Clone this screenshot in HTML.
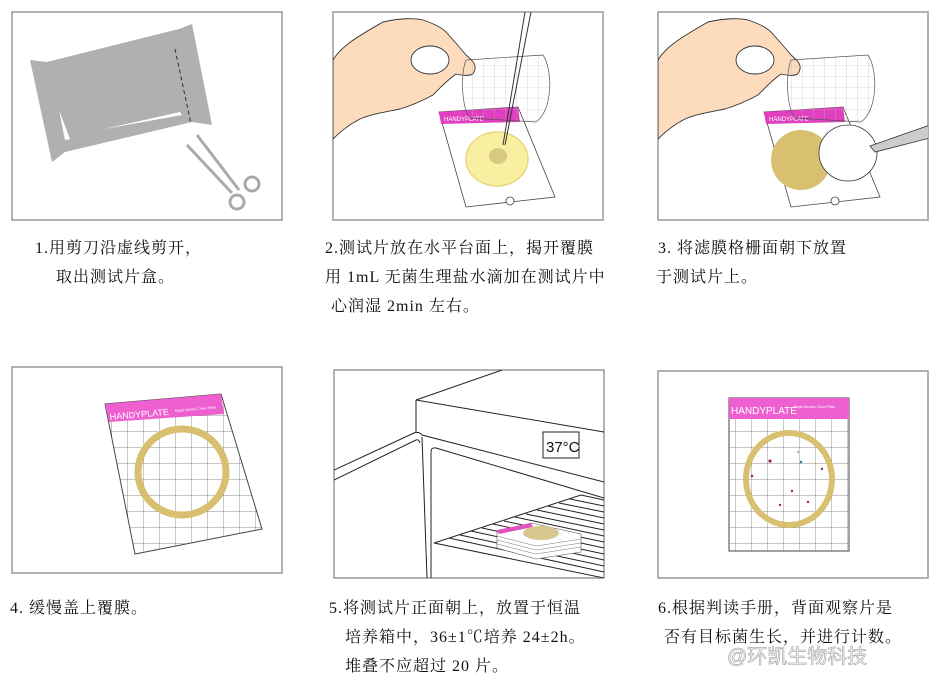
<!DOCTYPE html>
<html><head><meta charset="utf-8"><style>
html,body{margin:0;padding:0;background:#fff;width:941px;height:685px;overflow:hidden}
svg{display:block}
text{font-family:"Liberation Serif","Noto Serif CJK SC",serif;font-size:15px;fill:#111}
.t{font-size:16px;letter-spacing:1px}
.s{font-family:"Liberation Sans",sans-serif}
</style></head><body>
<svg width="941" height="685" viewBox="0 0 941 685" xmlns="http://www.w3.org/2000/svg">
<defs>
<pattern id="g" width="16" height="16" patternUnits="userSpaceOnUse"><path d="M16 0V16H0" fill="none" stroke="#666" stroke-width="0.7"/></pattern>
<pattern id="gl" width="11" height="11" patternUnits="userSpaceOnUse"><path d="M11 0V11H0" fill="none" stroke="#bbb" stroke-width="0.6"/></pattern>
<clipPath id="c1"><rect x="12" y="12" width="270" height="208"/></clipPath>
<clipPath id="c2"><rect x="333" y="12" width="270" height="208"/></clipPath>
<clipPath id="c3"><rect x="658" y="12" width="270" height="208"/></clipPath>
<clipPath id="c5"><rect x="334" y="370" width="270" height="208"/></clipPath>
<g id="hand">
<path d="M333,60 C340,48 353,39 383,22 C400,18 415,18 423,20 C435,24 442,28 446,32 C455,42 462,50 466,55 C472,60 476,64 475,69 C474,73 472,75 470,75 C465,76 460,75 456,74 C445,82 438,90 433,95 C420,102 410,106 400,109 C385,112 372,114 360,119 C348,125 340,132 333,139 Z" fill="#fcdcbc" stroke="#333" stroke-width="0.9"/>
<ellipse cx="430" cy="60" rx="19" ry="14" fill="#fff" stroke="#333" stroke-width="0.9"/>
</g>
</defs>
<g fill="none" stroke="#999" stroke-width="1.5">
<rect x="12" y="12" width="270" height="208"/>
<rect x="333" y="12" width="270" height="208"/>
<rect x="658" y="12" width="270" height="208"/>
<rect x="12" y="367" width="270" height="206"/>
<rect x="334" y="370" width="270" height="208"/>
<rect x="658" y="371" width="270" height="207"/>
</g>
<!-- panel 1 -->
<g clip-path="url(#c1)">
<polygon points="30,60 47,62 179,29 192,24 212,125 192,122 65,152 52,162" fill="#b0b0b0"/>
<polygon points="59,110 70,139 65,140" fill="#fff"/>
<polygon points="104,129 180,112 182,115 110,128" fill="#fff"/>
<line x1="175" y1="49" x2="191" y2="124" stroke="#333" stroke-dasharray="4,3" stroke-width="1"/>
<g stroke="#aaa" stroke-width="3" fill="none">
<line x1="197" y1="135" x2="239" y2="190"/><line x1="187" y1="145" x2="232" y2="193"/>
<circle cx="252" cy="184" r="7"/><circle cx="237" cy="202" r="7"/></g>
</g>
<!-- panel 2 -->
<g clip-path="url(#c2)">
<use href="#hand"/>
<polygon points="439,112 518,107 555,197 466,207" fill="#fff" stroke="#444" stroke-width="0.8"/>
<polygon points="439,112 518,107 520,122 441,124" fill="#e040c0"/>
<text x="444" y="121" class="s" style="font-size:6px;fill:#fff">HANDYPLATE</text>
<circle cx="510" cy="201" r="4" fill="#fff" stroke="#444" stroke-width="0.8"/>
<ellipse cx="497" cy="159" rx="31" ry="27" fill="#f8f0a0" stroke="#e8d880" stroke-width="1.5"/>
<ellipse cx="498" cy="156" rx="9" ry="8" fill="#d8c880"/>
<path d="M466,60 L543,55 C553,70 553,110 536,122 L470,118 C462,110 460,75 466,60Z" fill="url(#gl)" stroke="#555" stroke-width="0.7" fill-opacity="0.9"/>
<line x1="525" y1="12" x2="503" y2="145" stroke="#333" stroke-width="1"/>
<line x1="531" y1="12" x2="505" y2="145" stroke="#333" stroke-width="1"/>
</g>
<!-- panel 3 -->
<g clip-path="url(#c3)">
<use href="#hand" transform="translate(325,0)"/>
<polygon points="764,112 843,107 880,197 791,207" fill="#fff" stroke="#444" stroke-width="0.8"/>
<polygon points="764,112 843,107 845,122 766,124" fill="#e040c0"/>
<text x="769" y="121" class="s" style="font-size:6px;fill:#fff">HANDYPLATE</text>
<circle cx="835" cy="201" r="4" fill="#fff" stroke="#444" stroke-width="0.8"/>
<path d="M791,60 L868,55 C878,70 878,110 861,122 L795,118 C787,110 785,75 791,60Z" fill="url(#gl)" stroke="#555" stroke-width="0.7"/>
<ellipse cx="801" cy="160" rx="30" ry="30" fill="#d8c070"/>
<ellipse cx="848" cy="153" rx="29" ry="28" fill="#fff" stroke="#333" stroke-width="0.8"/>
<polygon points="870,146 930,125 930,138 875,152" fill="#ccc" stroke="#333" stroke-width="0.8"/>
</g>
<!-- panel 4 -->
<polygon points="105,404 221,394 262,529 135,554" fill="url(#g)" stroke="#444" stroke-width="1"/>
<polygon points="105,404 221,394 224,414 109,422" fill="#ee60d0"/>
<text x="0" y="0" class="s" style="font-size:9px;fill:#fff" transform="translate(110,420) rotate(-5)">HANDYPLATE</text>
<text x="0" y="0" class="s" style="font-size:3.5px;fill:#fff" transform="translate(175,412) rotate(-5)">Rapid Aerobic Count Plate</text>
<ellipse cx="182" cy="472" rx="44" ry="43" fill="none" stroke="#d8c070" stroke-width="7"/>
<!-- panel 5 -->
<g clip-path="url(#c5)" fill="none" stroke="#222" stroke-width="1">
<polyline points="502,370 416,400 604,432"/>
<polyline points="416,400 416,432"/>
<path d="M334,470 L414,433 Q419,431 422,435 L604,482"/>
<path d="M334,480 L416,440 Q419,439 420,443"/>
<line x1="422" y1="437" x2="427" y2="578"/>
<path d="M431,578 V452 Q431,447 436,448 L604,498"/>
<rect x="543" y="432" width="36" height="26"/>
<line x1="581" y1="495" x2="434" y2="543"/>
<line x1="581" y1="495" x2="604" y2="500"/>
<line x1="570" y1="499" x2="604" y2="506"/>
<line x1="559" y1="503" x2="604" y2="512"/>
<line x1="548" y1="506" x2="604" y2="518"/>
<line x1="537" y1="510" x2="604" y2="524"/>
<line x1="526" y1="514" x2="604" y2="530"/>
<line x1="515" y1="517" x2="604" y2="536"/>
<line x1="504" y1="521" x2="604" y2="542"/>
<line x1="493" y1="524" x2="604" y2="548"/>
<line x1="482" y1="528" x2="604" y2="554"/>
<line x1="471" y1="531" x2="604" y2="560"/>
<line x1="460" y1="535" x2="604" y2="566"/>
<line x1="449" y1="538" x2="604" y2="572"/>
<line x1="434" y1="543" x2="604" y2="578"/>
</g>
<text x="546" y="452" class="s" style="font-size:15px">37°C</text>
<polygon points="497,532 531,523 581,534 581,552 536,559 497,548" fill="#fff" stroke="#555" stroke-width="0.6"/>
<g stroke="#777" stroke-width="0.5"><line x1="497" y1="536" x2="536" y2="546"/><line x1="497" y1="540" x2="536" y2="550"/><line x1="497" y1="544" x2="536" y2="554"/><line x1="536" y1="546" x2="581" y2="539"/><line x1="536" y1="550" x2="581" y2="543"/><line x1="536" y1="554" x2="581" y2="547"/></g>
<polygon points="497,530 531,523 533,527 499,534" fill="#e050c0"/>
<ellipse cx="541" cy="533" rx="18" ry="7" fill="#d8c890"/>
<!-- panel 6 -->
<rect x="729" y="398" width="120" height="153" fill="url(#g)" stroke="#444" stroke-width="1"/>
<rect x="729" y="398" width="120" height="21" fill="#ee60d0"/>
<text x="731" y="414" class="s" style="font-size:10px;fill:#fff">HANDYPLATE</text>
<text x="794" y="408" class="s" style="font-size:3.5px;fill:#fff">Rapid Aerobic Count Plate</text>
<ellipse cx="789" cy="479" rx="43" ry="46" fill="none" stroke="#d8c070" stroke-width="6"/>
<g fill="#a02060"><circle cx="770" cy="461" r="1.6"/><circle cx="752" cy="476" r="1.3"/><circle cx="822" cy="469" r="1.2"/><circle cx="792" cy="491" r="1.2"/><circle cx="780" cy="505" r="1.2"/><circle cx="808" cy="502" r="1.2"/><circle cx="801" cy="462" r="1.2" fill="#2070a0"/><circle cx="798" cy="452" r="1" fill="#c080a0"/></g>
<!-- texts -->
<g class="t">
<text class="t" x="35" y="253">1.用剪刀沿虚线剪开，</text>
<text class="t" x="56" y="282">取出测试片盒。</text>
<text class="t" x="325" y="253">2.测试片放在水平台面上，揭开覆膜</text>
<text class="t" x="325" y="282">用 1mL 无菌生理盐水滴加在测试片中</text>
<text class="t" x="331" y="311">心润湿 2min 左右。</text>
<text class="t" x="658" y="253">3.  将滤膜格栅面朝下放置</text>
<text class="t" x="656" y="282">于测试片上。</text>
<text class="t" x="10" y="613">4.  缓慢盖上覆膜。</text>
<text class="t" x="329" y="613">5.将测试片正面朝上，放置于恒温</text>
<text class="t" x="345" y="642">培养箱中，36±1℃培养 24±2h。</text>
<text class="t" x="345" y="671">堆叠不应超过 20 片。</text>
<text class="t" x="658" y="613">6.根据判读手册，背面观察片是</text>
<text class="t" x="664" y="642">否有目标菌生长，并进行计数。</text>
</g>
<text x="727" y="663" style="font-family:'Liberation Sans','Noto Sans CJK SC',sans-serif;font-size:20px;fill:#fff;stroke:#aaa;stroke-width:0.7">@环凯生物科技</text>
</svg>
</body></html>
